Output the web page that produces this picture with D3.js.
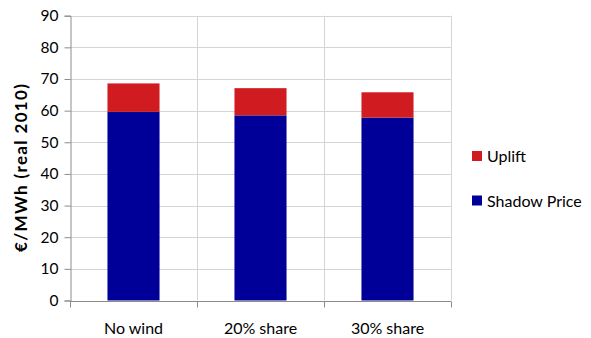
<!DOCTYPE html>
<html>
<head>
<meta charset="utf-8">
<script src="https://cdn.jsdelivr.net/npm/d3@7"></script>
<style>
  html, body { margin: 0; padding: 0; background: #fff; }
  svg { display: block; font-family: Lato, "Open Sans", sans-serif; }
</style>
</head>
<body>
<svg id="chart" width="591" height="338"></svg>
<script>
// Scenario categories and stacked cost components (€/MWh, real 2010)
const categories = ["No wind", "20% share", "30% share"];
const shadowPrice = [59.6, 58.5, 57.8];
const uplift = [9.0, 8.6, 8.0];
const yTicks = [0, 10, 20, 30, 40, 50, 60, 70, 80, 90];
const seriesNames = ["Shadow Price", "Uplift"];
const seriesColors = ["#000099", "#D01C21"];

const svg = d3.select("#chart");
const margin = { left: 70, right: 140, top: 15.7, bottom: 37.5 };
const W = 591, H = 338;
const x0 = margin.left, x1 = W - margin.right;
const y0 = H - margin.bottom, y1 = margin.top;

const x = d3.scaleBand().domain(categories).range([x0, x1]).paddingInner(0).paddingOuter(0);
const y = d3.scaleLinear().domain([0, 90]).range([y0, y1]);

// horizontal gridlines
svg.append("g")
  .selectAll("line")
  .data(yTicks.filter(t => t > 0))
  .join("line")
  .attr("x1", x0).attr("x2", x1)
  .attr("y1", d => Math.round(y(d)) + 0.5).attr("y2", d => Math.round(y(d)) + 0.5)
  .attr("stroke", "#d4d4d4").attr("stroke-width", 1);

// vertical category separators
svg.append("g")
  .selectAll("line")
  .data(categories)
  .join("line")
  .attr("x1", d => Math.round(x(d) + x.bandwidth()) + 0.5)
  .attr("x2", d => Math.round(x(d) + x.bandwidth()) + 0.5)
  .attr("y1", y1).attr("y2", y0)
  .attr("stroke", "#d4d4d4").attr("stroke-width", 1);

// stacked bars
const rows = categories.map((c, i) => ({ cat: c, "Shadow Price": shadowPrice[i], "Uplift": uplift[i] }));
const stack = d3.stack().keys(seriesNames)(rows);
const barW = x.bandwidth() * 0.41;

svg.append("g")
  .selectAll("g")
  .data(stack)
  .join("g")
  .attr("fill", (d, i) => seriesColors[i])
  .selectAll("rect")
  .data(d => d)
  .join("rect")
  .attr("x", d => x(d.data.cat) + (x.bandwidth() - barW) / 2)
  .attr("width", barW)
  .attr("y", d => y(d[1]))
  .attr("height", d => y(d[0]) - y(d[1]));

// y axis
const yAxis = svg.append("g")
  .attr("transform", `translate(${x0 + 0.5},0)`)
  .call(d3.axisLeft(y).tickValues(yTicks).tickSize(6).tickPadding(6).tickFormat(d3.format("d")));
yAxis.select(".domain").attr("stroke", "#8c8c8c");
yAxis.selectAll(".tick line").attr("stroke", "#8c8c8c");
yAxis.selectAll(".tick text")
  .attr("font-family", "Lato, sans-serif")
  .attr("font-size", 15.5).attr("fill", "#000");

// x axis with ticks at category boundaries
const xAxisG = svg.append("g").attr("transform", `translate(0,${Math.round(y0) + 0.5})`);
xAxisG.append("line")
  .attr("x1", x0).attr("x2", x1)
  .attr("stroke", "#8c8c8c");
const bounds = [x0].concat(categories.map(c => x(c) + x.bandwidth()));
xAxisG.selectAll("line.tk")
  .data(bounds)
  .join("line")
  .attr("class", "tk")
  .attr("x1", d => Math.round(d) + 0.5).attr("x2", d => Math.round(d) + 0.5)
  .attr("y1", 0).attr("y2", 6)
  .attr("stroke", "#8c8c8c");
xAxisG.selectAll("text")
  .data(categories)
  .join("text")
  .attr("x", d => x(d) + x.bandwidth() / 2)
  .attr("y", 32.5)
  .attr("text-anchor", "middle")
  .attr("font-size", 16)
  .attr("fill", "#000")
  .text(d => d);

// y axis title
svg.append("text")
  .attr("transform", `translate(27,168) rotate(-90)`)
  .attr("text-anchor", "middle")
  .attr("font-weight", "bold")
  .attr("font-size", 17)
  .attr("textLength", 168)
  .attr("lengthAdjust", "spacing")
  .attr("fill", "#000")
  .text("€/MWh (real 2010)");

// legend (Uplift listed first)
const legendItems = [{ name: "Uplift", color: seriesColors[1] }, { name: "Shadow Price", color: seriesColors[0] }];
const legend = svg.append("g").selectAll("g")
  .data(legendItems)
  .join("g")
  .attr("transform", (d, i) => `translate(472,${156 + i * 44.5})`);
legend.append("rect")
  .attr("x", 0).attr("y", -5).attr("width", 10).attr("height", 10)
  .attr("fill", d => d.color);
legend.append("text")
  .attr("x", 15).attr("y", 6)
  .attr("font-size", 16)
  .attr("fill", "#000")
  .text(d => d.name);
</script>
</body>
</html>
